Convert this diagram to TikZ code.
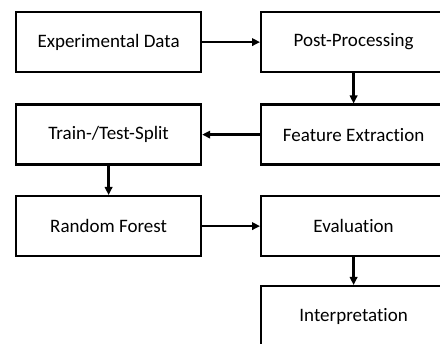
\documentclass[tikz,border=0pt]{standalone}
\usepackage{fontspec}
\setmainfont{Carlito}[Ligatures={NoCommon}]
\usetikzlibrary{arrows.meta}
\begin{document}
\begin{tikzpicture}[x=1pt,y=-1pt,
  box/.style={draw=black,line width=2.2pt,minimum width=185pt,minimum height=60pt,inner sep=0pt,font=\fontsize{19}{23}\selectfont,anchor=north west},
  arr/.style={line width=2.4pt,-{Triangle[length=8pt,width=7.5pt]}}]
\useasboundingbox (0,0) rectangle (440,344);
\clip (0,0) rectangle (440,344);
\node[box] (ed) at (15,11) {Experimental Data};
\node[box] (pp) at (260,11) {Post-Processing};
\node[box] (ts) at (15,103.5) {Train-/Test-Split};
\node[box] (fe) at (260,103.5) {Feature Extraction};
\node[box] (rf) at (15,195) {Random Forest};
\node[box] (ev) at (260,195) {Evaluation};
\node[box] (in) at (260,285) {Interpretation};
\draw[arr] (ed) -- (pp);
\draw[arr] (pp) -- (fe);
\draw[arr] (fe) -- (ts);
\draw[arr] (ts) -- (rf);
\draw[arr] (rf) -- (ev);
\draw[arr] (ev) -- (in);
\end{tikzpicture}
\end{document}
